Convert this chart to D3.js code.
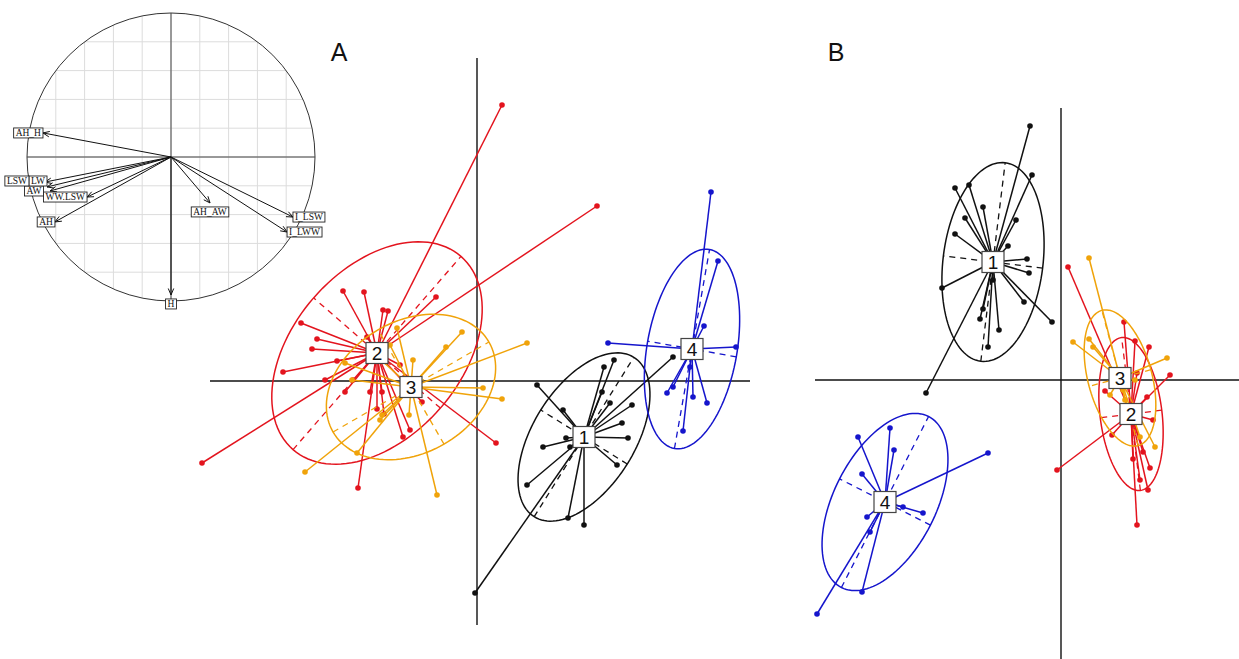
<!DOCTYPE html>
<html>
<head>
<meta charset="utf-8">
<script src="https://cdn.jsdelivr.net/npm/d3@7"></script>
<style>
  body { margin: 0; background: #fff; }
  svg { display: block; }
</style>
</head>
<body>
<script>
const WIDTH = 1239;
const HEIGHT = 659;

// classes and their colours
const GROUPS = ["1", "2", "3", "4"];
const COLORS = ["#111111", "#e3141e", "#f0a30a", "#1515cc"];

// correlation circle (variables)
const varNames = ["AH_H", "LSW", "LW", "AW", "WW.LSW", "AH", "AH_AW", "I_LSW", "I_LWW", "H"];
const varX = [-0.889, -0.875, -0.861, -0.840, -0.583, -0.806, 0.271, 0.847, 0.806, 0.0];
const varY = [0.167, -0.174, -0.208, -0.236, -0.278, -0.451, -0.319, -0.417, -0.521, -0.958];

// panel A : class centroids, ellipses [a, b, angle deg]
const centA = [[1.07, -0.56], [-1.00, 0.28], [-0.66, -0.06], [2.15, 0.32]];
const ellA = [[0.94, 0.51, 58], [1.28, 0.84, 49], [0.90, 0.66, 30], [1.01, 0.45, 80]];

// panel A : individual scores
const ptsA1 = [[-0.02, -2.12], [1.96, 0.24], [0.60, -0.04], [0.86, -0.29], [1.27, 0.14], [1.37, 0.21],
  [1.25, -0.11], [1.33, -0.22], [1.55, -0.24], [1.45, -0.42], [1.51, -0.57], [1.40, -0.84],
  [0.89, -0.57], [0.66, -0.66], [0.93, -0.66], [0.50, -1.04], [0.91, -1.37], [1.07, -1.44]];
const ptsA2 = [[0.25, 2.76], [1.20, 1.75], [-2.75, -0.82], [0.19, -0.62], [-1.19, -1.07], [-1.76, 0.58],
  [-1.34, 0.90], [-1.13, 0.89], [-0.94, 0.71], [-0.89, 0.70], [-0.41, 0.84], [-1.60, 0.42],
  [-1.65, 0.32], [-1.40, 0.20], [-1.94, 0.09], [-1.52, 0.01], [-1.24, 0.01], [-1.32, -0.11],
  [-1.07, -0.11], [-0.95, -0.11], [-1.00, -0.28], [-0.93, -0.33], [-0.74, -0.56], [-0.67, -0.49],
  [-0.77, 0.16], [-0.55, -0.21], [-1.10, 0.44]];
const ptsA3 = [[0.50, 0.38], [-0.15, 0.49], [-0.31, 0.34], [0.06, -0.07], [0.25, -0.18], [-0.40, -1.14],
  [-1.72, -0.91], [-1.20, -0.72], [-0.68, -0.34], [-0.95, -0.34], [-0.80, 0.53], [-0.64, 0.21],
  [-1.32, 0.18], [-1.25, 0.01], [-0.87, 0.36], [-1.07, 0.31], [-0.97, -0.39]];
const ptsA4 = [[2.34, 1.89], [2.41, 1.20], [2.27, 0.55], [1.31, 0.38], [2.59, 0.34], [1.90, -0.12],
  [1.96, -0.06], [2.16, -0.16], [2.30, -0.22], [2.06, -0.50], [2.13, 0.14]];

// panel B : class centroids, ellipses
const centB = [[-0.68, 1.18], [0.70, -0.34], [0.59, 0.02], [-1.76, -1.22]];
const ellB = [[1.00, 0.50, 83], [0.77, 0.31, 97], [0.70, 0.32, 105], [0.96, 0.51, 63]];

// panel B : individual scores
const ptsB1 = [[-0.31, 2.54], [-0.29, 2.05], [-1.06, 1.92], [-0.92, 1.95], [-0.78, 1.73], [-0.96, 1.62],
  [-0.45, 1.60], [-1.06, 1.46], [-0.53, 1.34], [-0.34, 1.21], [-0.32, 1.07], [-1.19, 0.92],
  [-0.37, 0.78], [-0.09, 0.58], [-0.78, 0.71], [-0.81, 0.61], [-0.62, 0.50], [-0.73, 0.33],
  [-1.35, -0.13], [-0.68, 1.00]];
const ptsB2 = [[0.07, 1.13], [0.63, 0.58], [0.74, 0.39], [0.88, 0.33], [1.09, 0.05], [0.76, 0.07],
  [0.44, -0.11], [0.86, -0.17], [0.92, -0.40], [0.51, -0.55], [-0.04, -0.90], [0.72, -0.79],
  [0.89, -0.88], [0.87, -1.10], [0.76, -1.45], [0.82, -0.72], [0.66, -0.27], [0.79, -1.00]];
const ptsB3 = [[0.28, 1.22], [0.12, 0.38], [0.28, 0.41], [0.32, 0.33], [1.06, 0.22], [0.94, -0.67],
  [0.79, -0.57], [0.62, -0.10], [0.64, -0.20], [0.49, -0.15], [0.69, -0.40], [0.54, 0.10], [0.74, 0.00]];
const ptsB4 = [[-0.73, -0.73], [-2.03, -0.57], [-1.71, -0.48], [-1.67, -0.70], [-1.99, -0.94],
  [-1.38, -1.33], [-1.58, -1.27], [-1.94, -1.37], [-1.91, -1.52], [-1.99, -2.12], [-2.44, -2.34]];

const svg = d3.select("body").append("svg")
  .attr("width", WIDTH)
  .attr("height", HEIGHT)
  .style("background", "#fff");

//scales of the two factorial maps (same unit length on both axes)
const xA = d3.scaleLinear().domain([-2.67, 2.73]).range([210, 750]);
const yA = d3.scaleLinear().domain([-2.44, 3.23]).range([625, 58]);
const xB = d3.scaleLinear().domain([-2.46, 1.78]).range([815, 1239]);
const yB = d3.scaleLinear().domain([-2.79, 2.72]).range([659, 108]);

// correlation circle scales
const xC = d3.scaleLinear().domain([-1, 1]).range([27, 315]);
const yC = d3.scaleLinear().domain([-1, 1]).range([301, 13]);

const line = d3.line();

const drawAxes = (g, xs, ys) => {
  g.append("line")
    .attr("x1", xs.range()[0]).attr("x2", xs.range()[1])
    .attr("y1", ys(0)).attr("y2", ys(0))
    .attr("stroke", "#111").attr("stroke-width", 1.4);
  g.append("line")
    .attr("x1", xs(0)).attr("x2", xs(0))
    .attr("y1", ys.range()[0]).attr("y2", ys.range()[1])
    .attr("stroke", "#111").attr("stroke-width", 1.4);
};

const drawClass = (g, xs, ys, cent, ell, pts, color) => {
  const [cx, cy] = cent;
  const [a, b, deg] = ell;
  const th = deg * Math.PI / 180;
  const c = Math.cos(th), s = Math.sin(th);

  // ellipse
  const ring = d3.range(0, 361, 3).map(t => {
    const r = t * Math.PI / 180;
    return [xs(cx + a * Math.cos(r) * c - b * Math.sin(r) * s),
            ys(cy + a * Math.cos(r) * s + b * Math.sin(r) * c)];
  });
  g.append("path").attr("d", line(ring))
    .attr("fill", "none").attr("stroke", color).attr("stroke-width", 1.5);

  // dashed axes of the ellipse
  [[a * c, a * s], [-b * s, b * c]].forEach(([dx, dy]) => {
    g.append("line")
      .attr("x1", xs(cx - dx)).attr("y1", ys(cy - dy))
      .attr("x2", xs(cx + dx)).attr("y2", ys(cy + dy))
      .attr("stroke", color).attr("stroke-width", 1.3)
      .attr("stroke-dasharray", "6,5");
  });

  // stars
  g.selectAll(null).data(pts).enter().append("line")
    .attr("x1", xs(cx)).attr("y1", ys(cy))
    .attr("x2", d => xs(d[0])).attr("y2", d => ys(d[1]))
    .attr("stroke", color).attr("stroke-width", 1.5);

  // points
  g.selectAll(null).data(pts).enter().append("circle")
    .attr("cx", d => xs(d[0])).attr("cy", d => ys(d[1]))
    .attr("r", 2.8).attr("fill", color);
};

const drawLabels = (g, xs, ys, cents) => {
  cents.forEach((cent, i) => {
    const px = xs(cent[0]), py = ys(cent[1]);
    g.append("rect")
      .attr("x", px - 11).attr("y", py - 10.5)
      .attr("width", 22).attr("height", 21)
      .attr("fill", "#fff").attr("stroke", "#444").attr("stroke-width", 1.2);
    g.append("text")
      .attr("x", px).attr("y", py + 7)
      .attr("text-anchor", "middle")
      .attr("font-family", "Liberation Sans, Arial, sans-serif")
      .attr("font-size", 19)
      .attr("fill", "#111")
      .text(GROUPS[i]);
  });
};

const panel = (xs, ys, cents, ells, ptsList, title, titleX) => {
  const g = svg.append("g");
  drawAxes(g, xs, ys);
  GROUPS.forEach((k, i) => drawClass(g, xs, ys, cents[i], ells[i], ptsList[i], COLORS[i]));
  drawLabels(g, xs, ys, cents);
  svg.append("text")
    .attr("x", titleX).attr("y", 61)
    .attr("text-anchor", "middle")
    .attr("font-family", "Liberation Sans, Arial, sans-serif")
    .attr("font-size", 25)
    .attr("fill", "#111")
    .text(title);
};

//the correlation circle
const corCircle = () => {
  const g = svg.append("g");
  const cx = xC(0), cy = yC(0), R = xC(1) - xC(0);

  g.append("circle").attr("cx", cx).attr("cy", cy).attr("r", R).attr("fill", "#fff");

  // grid clipped to the circle
  d3.range(-0.8, 0.81, 0.2).forEach(v => {
    const h = Math.sqrt(1 - v * v);
    g.append("line")
      .attr("x1", xC(v)).attr("x2", xC(v)).attr("y1", yC(-h)).attr("y2", yC(h))
      .attr("stroke", "#dcdcdc").attr("stroke-width", 1);
    g.append("line")
      .attr("y1", yC(v)).attr("y2", yC(v)).attr("x1", xC(-h)).attr("x2", xC(h))
      .attr("stroke", "#dcdcdc").attr("stroke-width", 1);
  });
  g.append("circle").attr("cx", cx).attr("cy", cy).attr("r", R)
    .attr("fill", "none").attr("stroke", "#333").attr("stroke-width", 1);
  g.append("line").attr("x1", xC(-1)).attr("x2", xC(1)).attr("y1", cy).attr("y2", cy)
    .attr("stroke", "#444").attr("stroke-width", 1);
  g.append("line").attr("x1", cx).attr("x2", cx).attr("y1", yC(-1)).attr("y2", yC(1))
    .attr("stroke", "#444").attr("stroke-width", 1);

  // arrows
  varNames.forEach((n, i) => {
    const tx = xC(varX[i]), ty = yC(varY[i]);
    g.append("line").attr("x1", cx).attr("y1", cy).attr("x2", tx).attr("y2", ty)
      .attr("stroke", "#111").attr("stroke-width", 1);
    const ang = Math.atan2(ty - cy, tx - cx);
    [0.4, -0.4].forEach(o => {
      g.append("line")
        .attr("x1", tx).attr("y1", ty)
        .attr("x2", tx - 7 * Math.cos(ang + o)).attr("y2", ty - 7 * Math.sin(ang + o))
        .attr("stroke", "#111").attr("stroke-width", 1);
    });
  });

  // labels in boxes, pushed outside the arrow tips, nearest to the centre first
  const placed = [];
  const order = d3.range(varNames.length).sort((i, j) => Math.abs(varX[i]) - Math.abs(varX[j]));
  order.forEach(i => {
    const x = varX[i], y = varY[i];
    const tx = xC(x), ty = yC(y);
    const t = g.append("text")
      .attr("font-family", "Liberation Serif, Times New Roman, serif")
      .attr("font-size", 9.5)
      .attr("text-anchor", "middle")
      .attr("fill", "#111")
      .text(varNames[i]);
    const w = t.node().getComputedTextLength() + 4;
    const hgt = 10;
    let lx = tx, ly = ty, side = 0;
    if (x > Math.abs(y)) { lx = tx + w / 2; side = 1; }
    else if (x <= -Math.abs(y)) { lx = tx - w / 2; side = -1; }
    else if (y < 0) ly = ty + 9;
    else ly = ty - 9;

    // small collision handling: slide outwards or up / down
    for (let k = 0; k < 30; k++) {
      const box = { l: lx - w / 2, r: lx + w / 2, t: ly - hgt / 2, b: ly + hgt / 2 };
      const hit = placed.find(p =>
        Math.min(box.r, p.r) - Math.max(box.l, p.l) > 0.5 &&
        Math.min(box.b, p.b) - Math.max(box.t, p.t) > 0.5);
      if (!hit) break;
      const moves = [
        { dx: 0, dy: hit.t - box.b, cost: 3 * (box.b - hit.t) },
        { dx: 0, dy: hit.b - box.t, cost: 3 * (hit.b - box.t) }
      ];
      if (side <= 0) moves.push({ dx: hit.l - box.r, dy: 0, cost: box.r - hit.l });
      if (side >= 0) moves.push({ dx: hit.r - box.l, dy: 0, cost: hit.r - box.l });
      const m = moves.sort((p, q) => p.cost - q.cost)[0];
      lx += m.dx; ly += m.dy;
    }
    placed.push({ l: lx - w / 2, r: lx + w / 2, t: ly - hgt / 2, b: ly + hgt / 2 });

    g.insert("rect", () => t.node())
      .attr("x", lx - w / 2).attr("y", ly - hgt / 2)
      .attr("width", w).attr("height", hgt)
      .attr("fill", "#fff").attr("stroke", "#222").attr("stroke-width", 0.9);
    t.attr("x", lx).attr("y", ly + 3.4);
  });
};

panel(xA, yA, centA, ellA, [ptsA1, ptsA2, ptsA3, ptsA4], "A", 339);
panel(xB, yB, centB, ellB, [ptsB1, ptsB2, ptsB3, ptsB4], "B", 836);
corCircle();
</script>
</body>
</html>
